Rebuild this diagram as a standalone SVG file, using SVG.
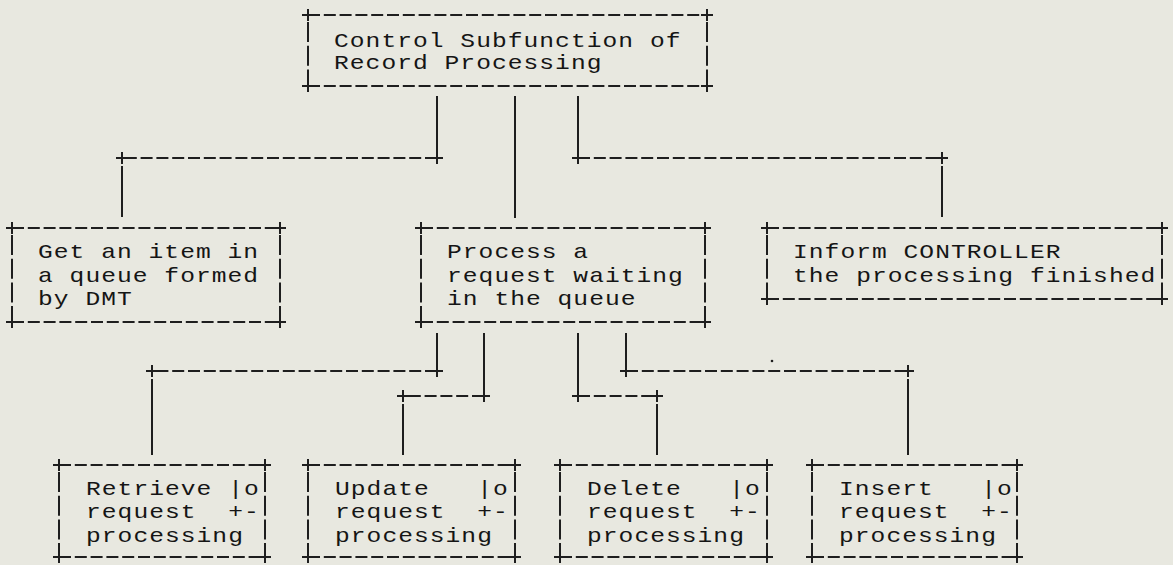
<svg xmlns="http://www.w3.org/2000/svg" width="1173" height="565" viewBox="0 0 1173 565">
<style>
  .bg { fill: #e8e8e0; }
  .h { stroke: #1e1e1e; stroke-width: 2.2; fill: none; stroke-dasharray: 12 3.8; }
  .v { stroke: #1e1e1e; stroke-width: 2; fill: none; }
  .vs { stroke: #1e1e1e; stroke-width: 2; fill: none; stroke-dasharray: 20 3.7; }
  .t { font-family: "Liberation Mono", "DejaVu Sans Mono", monospace; font-size: 20.5px; letter-spacing: 0.87px; fill: #151515; white-space: pre; }
</style>
<defs>
  <path id="plus" d="M-6,0H6M0,-6V6" stroke="#1e1e1e" stroke-width="2" fill="none"/>
</defs>
<rect class="bg" x="0" y="0" width="1173" height="565"/>

<g id="connectors">
  <path class="v" d="M437,96V152M122,166V217"/>
  <path class="h" d="M437,158H122"/>
  <use href="#plus" x="437" y="158"/><use href="#plus" x="122" y="158"/>
  <path class="v" d="M515,96V218"/>
  <path class="v" d="M578,96V152M942,166V217"/>
  <path class="h" d="M578,158H942"/>
  <use href="#plus" x="578" y="158"/><use href="#plus" x="942" y="158"/>
  <path class="v" d="M437,333V365M152,379V455"/>
  <path class="h" d="M437,371H152"/>
  <use href="#plus" x="437" y="371"/><use href="#plus" x="152" y="371"/>
  <path class="v" d="M484,333V390M403,404V455"/>
  <path class="h" d="M484,396H403"/>
  <use href="#plus" x="484" y="396"/><use href="#plus" x="403" y="396"/>
  <path class="v" d="M578,333V390M657,404V455"/>
  <path class="h" d="M578,396H657"/>
  <use href="#plus" x="578" y="396"/><use href="#plus" x="657" y="396"/>
  <path class="v" d="M626,333V365M908,379V455"/>
  <path class="h" d="M626,371H908"/>
  <use href="#plus" x="626" y="371"/><use href="#plus" x="908" y="371"/>
  <circle cx="772" cy="361" r="1.3" fill="#1e1e1e"/>
</g>

<g id="control">
  <path class="h" d="M308,15H707M308,86H707"/>
  <path class="vs" d="M308,22V80M707,22V80"/>
  <use href="#plus" x="308" y="15"/><use href="#plus" x="707" y="15"/>
  <use href="#plus" x="308" y="86"/><use href="#plus" x="707" y="86"/>
  <g transform="scale(1.2,1)">
    <text class="t" x="278.33" y="47">Control Subfunction of</text>
    <text class="t" x="278.33" y="69.5">Record Processing</text>
  </g>
</g>

<g id="getitem">
  <path class="h" d="M12,228H280M12,322H280"/>
  <path class="vs" d="M12,235V316M280,235V316"/>
  <use href="#plus" x="12" y="228"/><use href="#plus" x="280" y="228"/>
  <use href="#plus" x="12" y="322"/><use href="#plus" x="280" y="322"/>
  <g transform="scale(1.2,1)">
    <text class="t" x="31.67" y="258.5">Get an item in</text>
    <text class="t" x="31.67" y="282">a queue formed</text>
    <text class="t" x="31.67" y="305.5">by DMT</text>
  </g>
</g>

<g id="process">
  <path class="h" d="M421,228H705M421,322H705"/>
  <path class="vs" d="M421,235V316M705,235V316"/>
  <use href="#plus" x="421" y="228"/><use href="#plus" x="705" y="228"/>
  <use href="#plus" x="421" y="322"/><use href="#plus" x="705" y="322"/>
  <g transform="scale(1.2,1)">
    <text class="t" x="372.5" y="258.5">Process a</text>
    <text class="t" x="372.5" y="282">request waiting</text>
    <text class="t" x="372.5" y="305.5">in the queue</text>
  </g>
</g>

<g id="inform">
  <path class="h" d="M767,228H1162M767,299H1162"/>
  <path class="vs" d="M767,235V293M1162,235V293"/>
  <use href="#plus" x="767" y="228"/><use href="#plus" x="1162" y="228"/>
  <use href="#plus" x="767" y="299"/><use href="#plus" x="1162" y="299"/>
  <g transform="scale(1.2,1)">
    <text class="t" x="660.83" y="258.5">Inform CONTROLLER</text>
    <text class="t" x="660.83" y="282">the processing finished</text>
  </g>
</g>

<g id="retrieve">
  <path class="h" d="M59,465H265M59,557H265"/>
  <path class="vs" d="M59,472V551M265,472V551"/>
  <use href="#plus" x="59" y="465"/><use href="#plus" x="265" y="465"/>
  <use href="#plus" x="59" y="557"/><use href="#plus" x="265" y="557"/>
  <g transform="scale(1.2,1)">
    <text class="t" x="71.67" y="495">Retrieve |o</text>
    <text class="t" x="71.67" y="518.5">request  +-</text>
    <text class="t" x="71.67" y="542">processing</text>
  </g>
</g>

<g id="update">
  <path class="h" d="M308,465H515M308,557H515"/>
  <path class="vs" d="M308,472V551M515,472V551"/>
  <use href="#plus" x="308" y="465"/><use href="#plus" x="515" y="465"/>
  <use href="#plus" x="308" y="557"/><use href="#plus" x="515" y="557"/>
  <g transform="scale(1.2,1)">
    <text class="t" x="279.17" y="495">Update   |o</text>
    <text class="t" x="279.17" y="518.5">request  +-</text>
    <text class="t" x="279.17" y="542">processing</text>
  </g>
</g>

<g id="delete">
  <path class="h" d="M560,465H767M560,557H767"/>
  <path class="vs" d="M560,472V551M767,472V551"/>
  <use href="#plus" x="560" y="465"/><use href="#plus" x="767" y="465"/>
  <use href="#plus" x="560" y="557"/><use href="#plus" x="767" y="557"/>
  <g transform="scale(1.2,1)">
    <text class="t" x="489.17" y="495">Delete   |o</text>
    <text class="t" x="489.17" y="518.5">request  +-</text>
    <text class="t" x="489.17" y="542">processing</text>
  </g>
</g>

<g id="insert">
  <path class="h" d="M812,465H1017M812,557H1017"/>
  <path class="vs" d="M812,472V551M1017,472V551"/>
  <use href="#plus" x="812" y="465"/><use href="#plus" x="1017" y="465"/>
  <use href="#plus" x="812" y="557"/><use href="#plus" x="1017" y="557"/>
  <g transform="scale(1.2,1)">
    <text class="t" x="699.17" y="495">Insert   |o</text>
    <text class="t" x="699.17" y="518.5">request  +-</text>
    <text class="t" x="699.17" y="542">processing</text>
  </g>
</g>
</svg>
